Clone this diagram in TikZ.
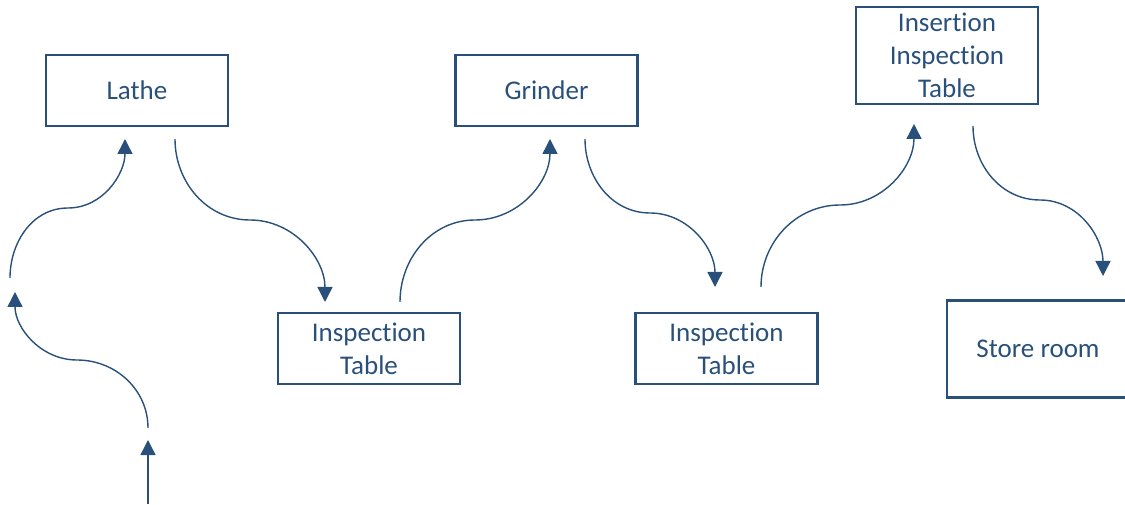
\documentclass[tikz,border=0pt]{standalone}
\usepackage{fontspec}
\setmainfont{Carlito}[Ligatures=NoCommon]
\usetikzlibrary{arrows.meta}
\definecolor{ink}{RGB}{41,80,122}
\tikzset{
  stage/.style={draw=ink, line width=2.1pt, text=ink, minimum width=182pt,
    minimum height=71pt, align=center, inner sep=0pt,
    font=\fontsize{27}{33}\selectfont},
  tall/.style={minimum height=97pt},
  flow/.style={draw=ink, line width=1.4pt,
    -{Triangle[width=15pt,length=15pt]}}
}
\begin{document}
\begin{tikzpicture}[x=1pt,y=1pt]
\useasboundingbox (0,0) rectangle (1125,504);

% machines and tables
\node[stage] (lathe) at (137,413.5) {Lathe};
\node[stage] (grinder) at (546.5,413.5) {Grinder};
\node[stage,tall] (insertion) at (947,448.5) {Insertion\\Inspection\\Table};
\node[stage] (insp1) at (369,155.5) {Inspection\\Table};
\node[stage] (insp2) at (726.5,155.5) {Inspection\\Table};
\node[stage,tall] (store) at (1038,155) {Store room};

% connector end points
\coordinate (in0) at (148,0);
\coordinate (in1) at (148,64);
\coordinate (a0) at (148,76);  \coordinate (am) at (77,144);   \coordinate (a1) at (15,212);
\coordinate (b0) at (10,226);  \coordinate (bm) at (68,296);   \coordinate (b1) at (125,365);
\coordinate (c0) at (175,365); \coordinate (cm) at (250,284);  \coordinate (c1) at (325,202);
\coordinate (d0) at (400,202); \coordinate (dm) at (475,284);  \coordinate (d1) at (550,365);
\coordinate (e0) at (585,365); \coordinate (em) at (650,291);  \coordinate (e1) at (715,217);
\coordinate (f0) at (761,217); \coordinate (fm) at (840,299);  \coordinate (f1) at (914,380);
\coordinate (g0) at (973,378); \coordinate (gm) at (1040,304); \coordinate (g1) at (1103,228);

% material flow
\draw[flow] (in0) -- (in1);
\draw[flow] (a0) to[out=90,in=0] (am) to[out=180,in=-90] (a1);
\draw[flow] (b0) to[out=90,in=180] (bm) to[out=0,in=-90] (b1);
\draw[flow] (c0) to[out=-90,in=180] (cm) to[out=0,in=90] (c1);
\draw[flow] (d0) to[out=90,in=180] (dm) to[out=0,in=-90] (d1);
\draw[flow] (e0) to[out=-90,in=180] (em) to[out=0,in=90] (e1);
\draw[flow] (f0) to[out=90,in=180] (fm) to[out=0,in=-90] (f1);
\draw[flow] (g0) to[out=-90,in=180] (gm) to[out=0,in=90] (g1);
\end{tikzpicture}
\end{document}
